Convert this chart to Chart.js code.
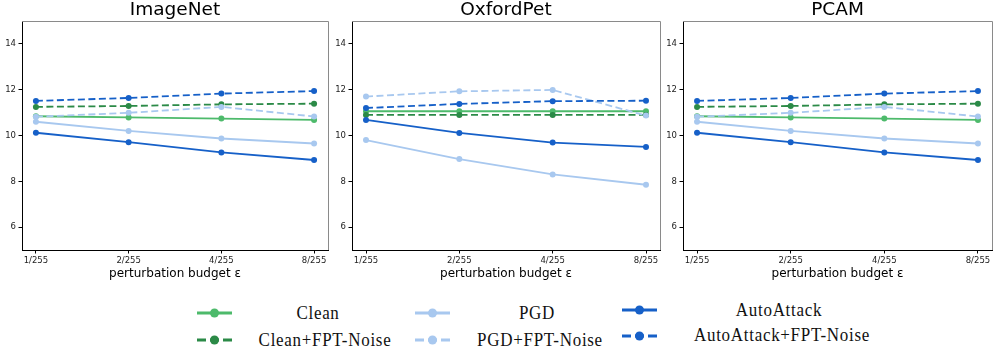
<!DOCTYPE html>
<html>
<head>
<meta charset="utf-8">
<script src="https://cdn.jsdelivr.net/npm/chart.js@4.4.1/dist/chart.umd.min.js"></script>
<style>
  html, body { margin: 0; padding: 0; background: #fff; }
  #wrap { position: relative; width: 997px; height: 354px; overflow: hidden; }
  .panel { position: absolute; top: 0; height: 285px; }
  .handle { position: absolute; }
  .ltext {
    position: absolute;
    font-family: "Liberation Serif", "DejaVu Serif", serif;
    font-size: 17px;
    letter-spacing: 0.7px;
    color: #111;
    white-space: pre;
    transform: translate(-50%, -50%) scaleY(1.1);
  }
</style>
</head>
<body>
<div id="wrap">
  <div class="panel" style="left:0px;width:334px"><canvas id="c0"></canvas></div>
  <div class="panel" style="left:330px;width:336px"><canvas id="c1"></canvas></div>
  <div class="panel" style="left:661px;width:336px"><canvas id="c2"></canvas></div>
</div>
<script>
"use strict";

const categories = ["1/255", "2/255", "4/255", "8/255"];
const panelTitles = ["ImageNet", "OxfordPet", "PCAM"];
const yTicks = [6, 8, 10, 12, 14];
const seriesNames = ["Clean", "Clean+FPT-Noise", "PGD", "PGD+FPT-Noise", "AutoAttack", "AutoAttack+FPT-Noise"];

// ImageNet
const imagenetClean = [10.84, 10.79, 10.74, 10.68];
const imagenetCleanFpt = [11.25, 11.29, 11.36, 11.39];
const imagenetPgd = [10.6, 10.2, 9.87, 9.65];
const imagenetPgdFpt = [10.82, 10.99, 11.25, 10.83];
const imagenetAA = [10.12, 9.71, 9.26, 8.93];
const imagenetAAFpt = [11.51, 11.64, 11.83, 11.94];

// OxfordPet
const oxfordClean = [11.06, 11.06, 11.06, 11.06];
const oxfordCleanFpt = [10.9, 10.9, 10.9, 10.9];
const oxfordPgd = [9.8, 8.97, 8.3, 7.85];
const oxfordPgdFpt = [11.7, 11.93, 11.99, 10.87];
const oxfordAA = [10.68, 10.11, 9.69, 9.5];
const oxfordAAFpt = [11.2, 11.38, 11.5, 11.52];

// PCAM
const pcamClean = [10.84, 10.79, 10.74, 10.68];
const pcamCleanFpt = [11.25, 11.29, 11.36, 11.39];
const pcamPgd = [10.6, 10.2, 9.87, 9.65];
const pcamPgdFpt = [10.82, 10.99, 11.25, 10.83];
const pcamAA = [10.12, 9.71, 9.26, 8.93];
const pcamAAFpt = [11.51, 11.64, 11.83, 11.94];

const panelData = [
  [imagenetClean, imagenetCleanFpt, imagenetPgd, imagenetPgdFpt, imagenetAA, imagenetAAFpt],
  [oxfordClean, oxfordCleanFpt, oxfordPgd, oxfordPgdFpt, oxfordAA, oxfordAAFpt],
  [pcamClean, pcamCleanFpt, pcamPgd, pcamPgdFpt, pcamAA, pcamAAFpt],
];

const seriesColors = ["#4dba6b", "#2b8a47", "#a8c8ef", "#a8c8ef", "#1660c8", "#1660c8"];
const seriesDashed = [false, true, false, true, false, true];
const panelPadRight = [6, 6, 5];

// top/right spines and the title centred over the plot area
const framePlugin = {
  id: "frame",
  afterDraw(chart) {
    const a = chart.chartArea;
    const ctx = chart.ctx;
    ctx.save();
    ctx.strokeStyle = "#8a8a8a";
    ctx.lineWidth = 1;
    ctx.beginPath();
    ctx.moveTo(a.left, a.top + 0.5);
    ctx.lineTo(a.right + 0.5, a.top + 0.5);
    ctx.lineTo(a.right + 0.5, a.bottom);
    ctx.stroke();

    ctx.fillStyle = "#000";
    ctx.font = "18.5px 'DejaVu Sans'";
    ctx.textAlign = "center";
    ctx.textBaseline = "middle";
    ctx.fillText(chart.options.plugins.frame.title, (a.left + a.right) / 2, 10.5);
    ctx.restore();
  },
};

function renderPanel(p) {
  const datasets = [];
  for (let i = 0; i < seriesNames.length; i++) {
    const values = panelData[p][i];
    const points = [];
    for (let j = 0; j < values.length; j++) {
      points.push({ x: j, y: values[j] });
    }
    datasets.push({
      label: seriesNames[i],
      data: points,
      borderColor: seriesColors[i],
      backgroundColor: seriesColors[i],
      pointBackgroundColor: seriesColors[i],
      pointBorderWidth: 0,
      pointRadius: 3,
      borderWidth: 1.8,
      borderDash: seriesDashed[i] ? [7, 3.5] : [],
      order: seriesNames.length - i,
      tension: 0,
    });
  }

  const config = {
    type: "line",
    data: { datasets: datasets },
    options: {
      responsive: true,
      maintainAspectRatio: false,
      animation: false,
      layout: { padding: { left: 0, right: panelPadRight[p], top: 21, bottom: 0 } },
      plugins: {
        legend: { display: false },
        tooltip: { enabled: false },
        title: { display: false },
        frame: { title: panelTitles[p] },
      },
      scales: {
        x: {
          type: "linear",
          min: -0.15,
          max: 3.15,
          afterBuildTicks: (scale) => {
            scale.ticks = categories.map((c, i) => ({ value: i }));
          },
          afterFit: (scale) => {
            scale.height = 35;
          },
          ticks: {
            callback: (v) => categories[v],
            color: "#222",
            font: { family: "DejaVu Sans", size: 8.5 },
            padding: 2,
            maxRotation: 0,
            autoSkip: false,
          },
          grid: { drawOnChartArea: false, tickLength: 3.5, tickColor: "#000" },
          border: { color: "#000", width: 1 },
          title: {
            display: true,
            text: "perturbation budget ε",
            color: "#000",
            font: { family: "DejaVu Sans", size: 12 },
            padding: { top: 0, bottom: 4 },
          },
        },
        y: {
          min: 5,
          max: 15,
          afterBuildTicks: (scale) => {
            scale.ticks = yTicks.map((v) => ({ value: v }));
          },
          afterFit: (scale) => {
            scale.width = 22;
          },
          ticks: {
            color: "#222",
            font: { family: "DejaVu Sans", size: 8.5 },
            padding: 2.5,
          },
          grid: { drawOnChartArea: false, tickLength: 3.5, tickColor: "#000" },
          border: { color: "#000", width: 1 },
        },
      },
    },
    plugins: [framePlugin],
  };

  new Chart(document.getElementById("c" + p), config);
}

for (let p = 0; p < panelTitles.length; p++) {
  renderPanel(p);
}

// shared legend under the panels
const legendSlots = [
  { hx: 197, hy: 313, tx: 318, ty: 313 },
  { hx: 197, hy: 340, tx: 325, ty: 340 },
  { hx: 415, hy: 313, tx: 537, ty: 313 },
  { hx: 415, hy: 340, tx: 540, ty: 340 },
  { hx: 622, hy: 310, tx: 779, ty: 310 },
  { hx: 622, hy: 336, tx: 782, ty: 335 },
];

const wrap = document.getElementById("wrap");
for (let i = 0; i < seriesNames.length; i++) {
  const slot = legendSlots[i];
  const h = document.createElement("canvas");
  h.className = "handle";
  h.width = 36;
  h.height = 16;
  h.style.left = slot.hx + "px";
  h.style.top = (slot.hy - 8) + "px";
  wrap.appendChild(h);
  const ctx = h.getContext("2d");
  ctx.strokeStyle = seriesColors[i];
  ctx.fillStyle = seriesColors[i];
  ctx.lineWidth = 3;
  ctx.setLineDash(seriesDashed[i] ? [9, 4] : []);
  ctx.beginPath();
  ctx.moveTo(0, 8);
  ctx.lineTo(35, 8);
  ctx.stroke();
  ctx.beginPath();
  ctx.arc(17.5, 8, 4.5, 0, Math.PI * 2);
  ctx.fill();

  const t = document.createElement("div");
  t.className = "ltext";
  t.textContent = seriesNames[i];
  t.style.left = slot.tx + "px";
  t.style.top = slot.ty + "px";
  wrap.appendChild(t);
}
</script>
</body>
</html>
